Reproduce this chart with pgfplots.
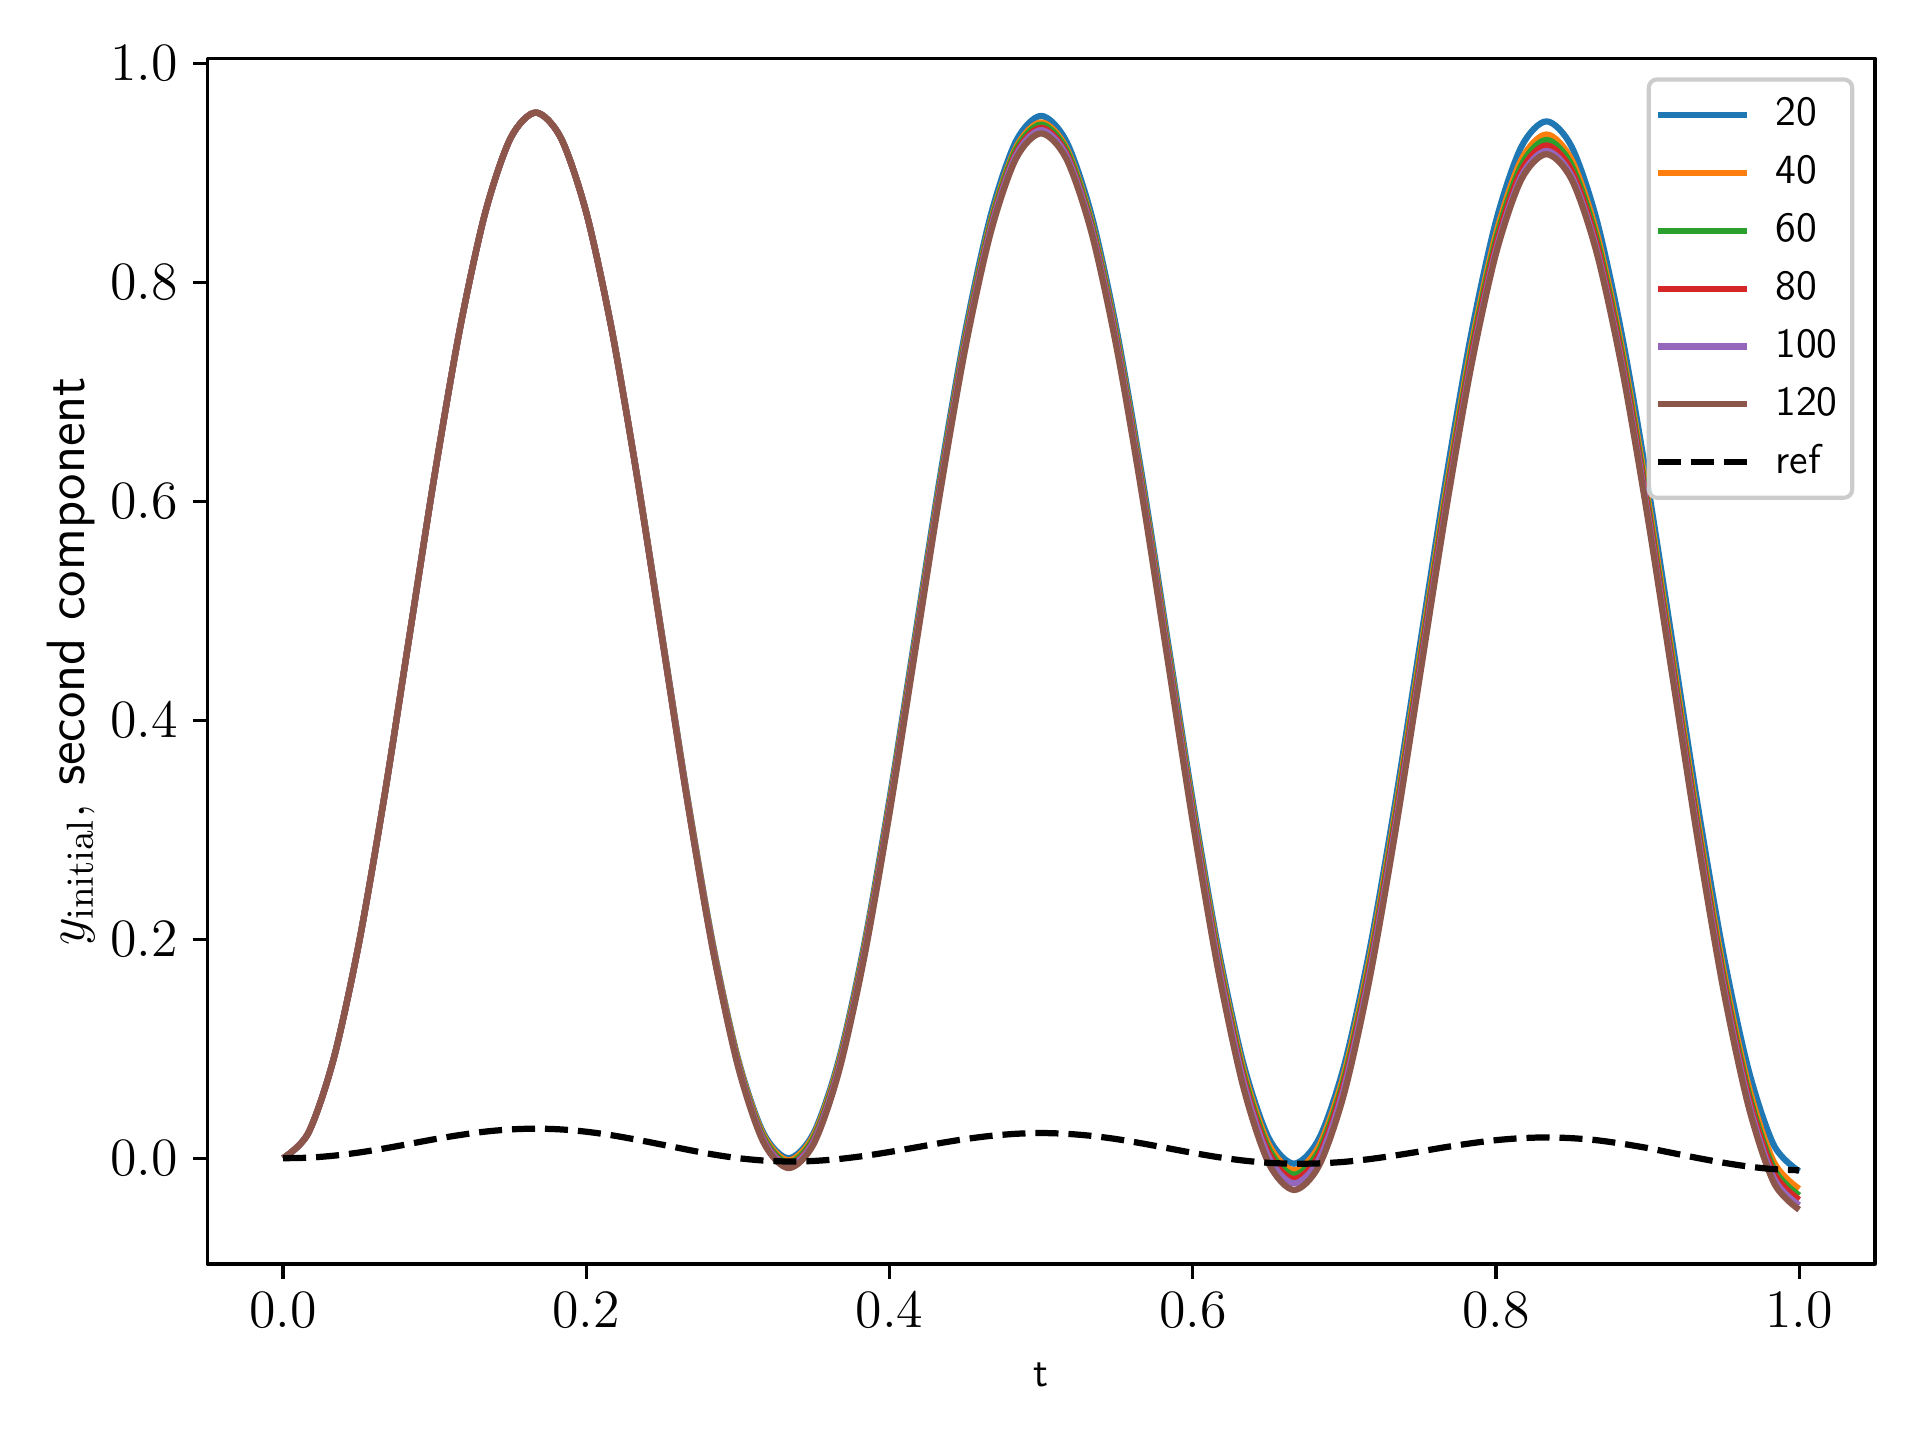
\RequirePackage{fix-cm}
\documentclass[border=0pt]{standalone}
\usepackage{pgfplots}
\usepackage{pgfplotstable}
\pgfplotsset{compat=1.18}
\definecolor{c0}{HTML}{1F77B4}
\definecolor{c1}{HTML}{FF7F0E}
\definecolor{c2}{HTML}{2CA02C}
\definecolor{c3}{HTML}{D62728}
\definecolor{c4}{HTML}{9467BD}
\definecolor{c5}{HTML}{8C564B}
\definecolor{legframe}{HTML}{CCCCCC}

\pgfplotstableread{
t s20 s40 s60 s80 s100 s120 ref
0.00000 0.0000 0.0000 0.0000 0.0000 0.0000 0.0000 0.0000
0.01667 0.0234 0.0233 0.0232 0.0231 0.0230 0.0229 0.0005
0.03333 0.0912 0.0910 0.0908 0.0906 0.0906 0.0904 0.0023
0.05000 0.1968 0.1966 0.1964 0.1961 0.1960 0.1958 0.0052
0.06667 0.3299 0.3297 0.3294 0.3292 0.3290 0.3288 0.0089
0.08333 0.4775 0.4772 0.4770 0.4768 0.4766 0.4764 0.0131
0.10000 0.6251 0.6249 0.6246 0.6244 0.6243 0.6241 0.0174
0.11667 0.7582 0.7580 0.7579 0.7577 0.7577 0.7575 0.0212
0.13333 0.8638 0.8637 0.8637 0.8636 0.8635 0.8635 0.0243
0.15000 0.9316 0.9316 0.9316 0.9316 0.9315 0.9315 0.0263
0.16667 0.9550 0.9550 0.9550 0.9550 0.9550 0.9550 0.0270
0.18333 0.9316 0.9316 0.9316 0.9315 0.9315 0.9315 0.0263
0.20000 0.8638 0.8637 0.8636 0.8635 0.8634 0.8633 0.0242
0.21667 0.7582 0.7579 0.7576 0.7574 0.7572 0.7570 0.0210
0.23333 0.6251 0.6246 0.6241 0.6236 0.6234 0.6229 0.0169
0.25000 0.4775 0.4767 0.4760 0.4752 0.4749 0.4741 0.0124
0.26667 0.3299 0.3289 0.3278 0.3268 0.3263 0.3252 0.0078
0.28333 0.1968 0.1955 0.1941 0.1928 0.1921 0.1908 0.0035
0.30000 0.0912 0.0896 0.0879 0.0863 0.0855 0.0839 0.0001
0.31667 0.0234 0.0215 0.0197 0.0178 0.0169 0.0150 -0.0021
0.33333 0.0000 -0.0020 -0.0040 -0.0060 -0.0070 -0.0090 -0.0030
0.35000 0.0231 0.0208 0.0187 0.0165 0.0154 0.0131 -0.0025
0.36667 0.0905 0.0877 0.0855 0.0833 0.0819 0.0794 -0.0007
0.38333 0.1956 0.1923 0.1901 0.1876 0.1861 0.1834 0.0021
0.40000 0.3283 0.3243 0.3221 0.3195 0.3177 0.3149 0.0057
0.41667 0.4754 0.4709 0.4686 0.4659 0.4640 0.4610 0.0097
0.43333 0.6226 0.6175 0.6153 0.6125 0.6105 0.6074 0.0138
0.45000 0.7554 0.7500 0.7478 0.7449 0.7429 0.7398 0.0175
0.46667 0.8609 0.8551 0.8531 0.8501 0.8481 0.8450 0.0204
0.48333 0.9287 0.9227 0.9207 0.9177 0.9157 0.9127 0.0223
0.50000 0.9520 0.9460 0.9440 0.9410 0.9390 0.9360 0.0230
0.51667 0.9286 0.9227 0.9207 0.9177 0.9156 0.9126 0.0223
0.53333 0.8608 0.8550 0.8528 0.8498 0.8478 0.8446 0.0204
0.55000 0.7551 0.7494 0.7471 0.7441 0.7419 0.7385 0.0174
0.56667 0.6219 0.6163 0.6138 0.6107 0.6083 0.6047 0.0135
0.58333 0.4741 0.4686 0.4659 0.4626 0.4600 0.4560 0.0092
0.60000 0.3263 0.3208 0.3178 0.3144 0.3115 0.3070 0.0049
0.61667 0.1928 0.1873 0.1840 0.1804 0.1772 0.1723 0.0010
0.63333 0.0868 0.0812 0.0776 0.0738 0.0703 0.0650 -0.0021
0.65000 0.0187 0.0129 0.0090 0.0051 0.0013 -0.0044 -0.0042
0.66667 -0.0050 -0.0110 -0.0150 -0.0190 -0.0230 -0.0290 -0.0050
0.68333 0.0180 0.0113 0.0072 0.0032 -0.0009 -0.0067 -0.0047
0.70000 0.0853 0.0778 0.0735 0.0694 0.0652 0.0597 -0.0033
0.71667 0.1904 0.1820 0.1775 0.1733 0.1690 0.1638 -0.0008
0.73333 0.3230 0.3136 0.3090 0.3047 0.3002 0.2955 0.0025
0.75000 0.4701 0.4599 0.4551 0.4506 0.4460 0.4418 0.0062
0.76667 0.6174 0.6064 0.6015 0.5969 0.5921 0.5883 0.0101
0.78333 0.7503 0.7388 0.7339 0.7291 0.7242 0.7207 0.0136
0.80000 0.8558 0.8440 0.8390 0.8341 0.8292 0.8260 0.0165
0.81667 0.9236 0.9117 0.9067 0.9017 0.8967 0.8937 0.0183
0.83333 0.9470 0.9350 0.9300 0.9250 0.9200 0.9170 0.0190
0.85000 0.9236 0.9116 0.9066 0.9016 0.8967 0.8936 0.0183
0.86667 0.8557 0.8437 0.8387 0.8338 0.8288 0.8256 0.0164
0.88333 0.7498 0.7377 0.7327 0.7279 0.7230 0.7196 0.0132
0.90000 0.6164 0.6041 0.5989 0.5943 0.5894 0.5858 0.0093
0.91667 0.4684 0.4556 0.4504 0.4459 0.4410 0.4373 0.0047
0.93333 0.3202 0.3069 0.3015 0.2972 0.2923 0.2884 0.0001
0.95000 0.1865 0.1725 0.1670 0.1627 0.1579 0.1538 -0.0041
0.96667 0.0802 0.0655 0.0598 0.0557 0.0508 0.0467 -0.0076
0.98333 0.0118 -0.0036 -0.0095 -0.0135 -0.0185 -0.0225 -0.0100
1.00000 -0.0120 -0.0280 -0.0340 -0.0380 -0.0430 -0.0470 -0.0110
}\datatable

\begin{document}
\begin{tikzpicture}
\begin{axis}[
  name=ax,
  at={(0,0)}, anchor=south west,
  scale only axis,
  width=5.559in, height=4.019in,
  xmin=-0.05, xmax=1.05,
  ymin=-0.0966, ymax=1.0046,
  xtick={0,0.2,0.4,0.6,0.8,1.0},
  ytick={0,0.2,0.4,0.6,0.8,1.0},
  xtick pos=lower, ytick pos=left,
  tick align=outside,
  major tick length=3.5pt,
  every tick/.style={black, line width=0.8pt},
  axis line style={line width=0.8pt, black},
  /pgf/number format/fixed,
  /pgf/number format/fixed zerofill,
  /pgf/number format/precision=1,
  xticklabel style={font=\fontsize{13}{15}\selectfont},
  yticklabel style={font=\fontsize{13}{15}\selectfont},
  xlabel={t},
  xlabel style={at={([yshift=-29.5pt]axis description cs:0.5,0)}, anchor=base, font=\fontsize{10}{12}\selectfont\sffamily},
  ylabel={$y_{\mathrm{initial}}$, \textsf{second component}},
  ylabel style={at={([xshift=-29.5pt]axis description cs:0,0.5)}, anchor=base, font=\fontsize{13}{15}\selectfont},
  legend image code/.code={\draw[#1] (0pt,0pt) -- (21.5pt,0pt);},
  legend cell align=left,
  legend style={
    at={(1,1)}, anchor=north east, xshift=-5pt, yshift=-4.6pt,
    draw=legframe, line width=1pt, rounded corners=2pt,
    fill=white, fill opacity=0.8, text opacity=1,
    font=\fontsize{10}{12}\selectfont\sffamily,
    inner xsep=1.5pt, inner ysep=1.6pt,
    row sep=0pt,
    nodes={inner xsep=2pt, inner ysep=3.47pt, text height=6.1pt, text depth=0.9pt},
    /tikz/every odd column/.append style={column sep=4pt},
  },
  line join=round,
]
\addplot[c0, line width=1.5pt, smooth, tension=0.5] table[x=t, y=s20] {\datatable};
\addlegendentry{20}
\addplot[c1, line width=1.5pt, smooth, tension=0.5] table[x=t, y=s40] {\datatable};
\addlegendentry{40}
\addplot[c2, line width=1.5pt, smooth, tension=0.5] table[x=t, y=s60] {\datatable};
\addlegendentry{60}
\addplot[c3, line width=1.5pt, smooth, tension=0.5] table[x=t, y=s80] {\datatable};
\addlegendentry{80}
\addplot[c4, line width=1.5pt, smooth, tension=0.5] table[x=t, y=s100] {\datatable};
\addlegendentry{100}
\addplot[c5, line width=1.5pt, smooth, tension=0.5] table[x=t, y=s120] {\datatable};
\addlegendentry{120}
\addplot[black, line width=1.5pt, dash pattern=on 5.55pt off 2.4pt, smooth, tension=0.5] table[x=t, y=ref] {\datatable};
\addlegendentry{ref}
\end{axis}
\pgfresetboundingbox
\path[use as bounding box] ([xshift=-0.691in,yshift=-0.5867in]ax.south west) rectangle ([xshift=5.709in,yshift=4.2133in]ax.south west);
\end{tikzpicture}
\end{document}
